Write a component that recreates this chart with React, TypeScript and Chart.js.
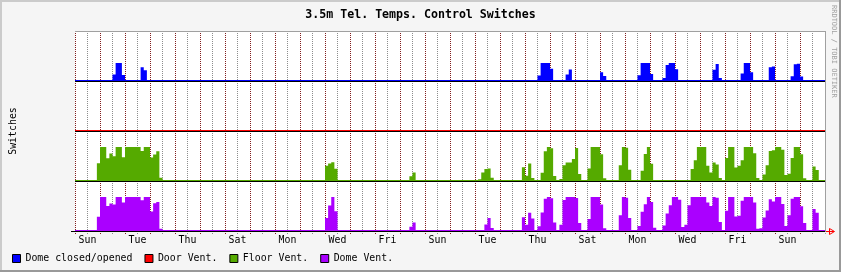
import React, { useEffect, useRef } from 'react';
import { Chart, registerables } from 'chart.js';

Chart.register(...registerables);

// ---- data (one row = one day, 8 samples of 3 hours each; 30 days) ----
const DAY_LABELS = ['Sun', 'Tue', 'Thu', 'Sat', 'Mon', 'Wed', 'Fri', 'Sun', 'Tue', 'Thu', 'Sat', 'Mon', 'Wed', 'Fri', 'Sun'];
const SAMPLES_PER_DAY = 8;
const DAYS = 30;

const domeOpen = [
  0, 0, 0, 0, 0, 0, 0, 0,
  0, 0, 0, 0, 0, 0.32, 1, 1,
  0.29, 0, 0, 0, 0, 0, 0.75, 0.57,
  0, 0, 0, 0, 0, 0, 0, 0,
  0, 0, 0, 0, 0, 0, 0, 0,
  0, 0, 0, 0, 0, 0, 0, 0,
  0, 0, 0, 0, 0, 0, 0, 0,
  0, 0, 0, 0, 0, 0, 0, 0,
  0, 0, 0, 0, 0, 0, 0, 0,
  0, 0, 0, 0, 0, 0, 0, 0,
  0, 0, 0, 0, 0, 0, 0, 0,
  0, 0, 0, 0, 0, 0, 0, 0,
  0, 0, 0, 0, 0, 0, 0, 0,
  0, 0, 0, 0, 0, 0, 0, 0,
  0, 0, 0, 0, 0, 0, 0, 0,
  0, 0, 0, 0, 0, 0, 0, 0,
  0, 0, 0, 0, 0, 0, 0, 0,
  0, 0, 0, 0, 0, 0, 0, 0,
  0, 0, 0, 0, 0, 0.27, 1, 1,
  1, 0.66, 0, 0, 0, 0, 0.32, 0.62,
  0, 0, 0, 0, 0, 0, 0, 0,
  0, 0.45, 0.24, 0, 0, 0, 0, 0,
  0, 0, 0, 0, 0, 0.28, 1, 1,
  1, 0.35, 0, 0, 0, 0.12, 0.88, 1,
  1, 0.63, 0, 0, 0, 0, 0, 0,
  0, 0, 0, 0, 0, 0.61, 0.94, 0.12,
  0, 0, 0, 0, 0, 0, 0.38, 1,
  1, 0.45, 0, 0, 0, 0, 0, 0.75,
  0.8, 0, 0, 0, 0, 0, 0.22, 0.93,
  0.95, 0.21, 0, 0, 0, 0, 0, 0,
];

const doorVent = [
  0, 0, 0, 0, 0, 0, 0, 0,  0, 0, 0, 0, 0, 0, 0, 0,  0, 0, 0, 0, 0, 0, 0, 0,
  0, 0, 0, 0, 0, 0, 0, 0,  0, 0, 0, 0, 0, 0, 0, 0,  0, 0, 0, 0, 0, 0, 0, 0,
  0, 0, 0, 0, 0, 0, 0, 0,  0, 0, 0, 0, 0, 0, 0, 0,  0, 0, 0, 0, 0, 0, 0, 0,
  0, 0, 0, 0, 0, 0, 0, 0,  0, 0, 0, 0, 0, 0, 0, 0,  0, 0, 0, 0, 0, 0, 0, 0,
  0, 0, 0, 0, 0, 0, 0, 0,  0, 0, 0, 0, 0, 0, 0, 0,  0, 0, 0, 0, 0, 0, 0, 0,
  0, 0, 0, 0, 0, 0, 0, 0,  0, 0, 0, 0, 0, 0, 0, 0,  0, 0, 0, 0, 0, 0, 0, 0,
  0, 0, 0, 0, 0, 0, 0, 0,  0, 0, 0, 0, 0, 0, 0, 0,  0, 0, 0, 0, 0, 0, 0, 0,
  0, 0, 0, 0, 0, 0, 0, 0,  0, 0, 0, 0, 0, 0, 0, 0,  0, 0, 0, 0, 0, 0, 0, 0,
  0, 0, 0, 0, 0, 0, 0, 0,  0, 0, 0, 0, 0, 0, 0, 0,  0, 0, 0, 0, 0, 0, 0, 0,
  0, 0, 0, 0, 0, 0, 0, 0,  0, 0, 0, 0, 0, 0, 0, 0,  0, 0, 0, 0, 0, 0, 0, 0,
];

const floorVent = [
  0.27, 0, 0, 0, 0, 0, 0, 0,
  0.51, 1, 1, 0.66, 0.8, 0.72, 1, 1,
  0.69, 1, 1, 1, 1, 1, 0.88, 1,
  1, 0.68, 0.77, 0.87, 0.07, 0, 0, 0,
  0, 0, 0, 0, 0, 0, 0, 0,
  0, 0, 0, 0, 0, 0, 0, 0,
  0, 0, 0, 0, 0, 0, 0, 0,
  0, 0, 0, 0, 0, 0, 0, 0,
  0, 0, 0, 0, 0, 0, 0, 0,
  0, 0, 0, 0, 0, 0, 0, 0,
  0, 0.43, 0.5, 0.54, 0.34, 0, 0, 0,
  0, 0, 0, 0, 0, 0, 0, 0,
  0, 0, 0, 0, 0, 0, 0, 0,
  0, 0, 0, 0, 0.11, 0.23, 0, 0,
  0, 0, 0, 0, 0, 0, 0, 0,
  0, 0, 0, 0, 0, 0, 0, 0,
  0, 0, 0.02, 0.23, 0.33, 0.35, 0.07, 0,
  0, 0, 0, 0, 0, 0, 0, 0,
  0.39, 0.13, 0.5, 0.06, 0, 0, 0.22, 0.87,
  1, 0.96, 0.12, 0, 0.03, 0.45, 0.53, 0.53,
  0.64, 0.97, 0.18, 0, 0, 0.35, 1, 1,
  1, 0.78, 0.05, 0, 0, 0, 0, 0.45,
  1, 0.98, 0.31, 0, 0, 0, 0.28, 0.79,
  1, 0.49, 0, 0, 0, 0, 0, 0,
  0, 0, 0, 0, 0, 0, 0.33, 0.6,
  1, 1, 1, 0.43, 0.23, 0.53, 0.47, 0.06,
  0, 0.67, 1, 1, 0.38, 0.43, 0.6, 1,
  1, 1, 0.81, 0.06, 0, 0.17, 0.45, 0.88,
  0.9, 1, 1, 0.92, 0.15, 0.19, 0.67, 1,
  1, 0.78, 0.05, 0, 0, 0.41, 0.3, 0,
];

const domeVent = [
  0.25, 0, 0, 0, 0, 0, 0, 0,
  0.4, 1, 1, 0.73, 0.8, 0.77, 1, 1,
  0.83, 1, 1, 1, 1, 1, 0.9, 1,
  1, 0.56, 0.81, 0.85, 0.04, 0, 0, 0,
  0, 0, 0, 0, 0, 0, 0, 0,
  0, 0, 0, 0, 0, 0, 0, 0,
  0, 0, 0, 0, 0, 0, 0, 0,
  0, 0, 0, 0, 0, 0, 0, 0,
  0, 0, 0, 0, 0, 0, 0, 0,
  0, 0, 0, 0, 0, 0, 0, 0,
  0, 0.36, 0.74, 1, 0.57, 0, 0, 0,
  0, 0, 0, 0, 0, 0, 0, 0,
  0, 0, 0, 0, 0, 0, 0, 0,
  0, 0, 0, 0, 0.1, 0.23, 0, 0,
  0, 0, 0, 0, 0, 0, 0, 0,
  0, 0, 0, 0, 0, 0, 0, 0,
  0, 0, 0, 0, 0.17, 0.36, 0.06, 0,
  0, 0, 0, 0, 0, 0, 0, 0,
  0.39, 0.16, 0.52, 0.35, 0, 0.11, 0.53, 0.95,
  1, 0.96, 0.23, 0, 0.16, 0.91, 1, 1,
  1, 0.97, 0.21, 0, 0, 0.33, 1, 1,
  1, 0.77, 0.05, 0, 0, 0, 0, 0.45,
  1, 0.98, 0.36, 0, 0, 0.12, 0.55, 0.78,
  1, 0.85, 0.07, 0, 0, 0.14, 0.5, 0.75,
  1, 1, 0.92, 0.09, 0.16, 0.75, 1, 1,
  1, 1, 1, 0.83, 0.73, 1, 0.98, 0.24,
  0, 0.58, 1, 1, 0.41, 0.43, 0.89, 1,
  1, 1, 0.83, 0.04, 0.05, 0.38, 0.59, 0.93,
  0.86, 1, 1, 0.79, 0.12, 0.45, 0.95, 1,
  1, 0.72, 0.21, 0, 0, 0.64, 0.52, 0,
];

// ---- styling ----
const FONT = "'DejaVu Sans Mono', monospace";
const MAJOR_GRID = '#821e1e';
const MINOR_GRID = '#8c8c8c';
const FRAME_GRID = '#a0a0a0';

const STRIP = 0.02;

function toPoints(vals: number[], base: number, span: number) {
  const step = 1 / SAMPLES_PER_DAY;
  const pts = vals.map((v, i) => ({ x: i * step, y: base + STRIP + v * span }));
  pts.push({ x: vals.length * step, y: base + STRIP + vals[vals.length - 1] * span });
  return pts;
}

const framePlugin = {
  id: 'rrdFrame',
  beforeDraw(chart: any) {
    const { ctx, chartArea: ca, width, height } = chart;
    ctx.save();
    ctx.fillStyle = '#f5f5f5';
    ctx.fillRect(0, 0, width, height);
    ctx.fillStyle = '#cbcbcb';
    ctx.fillRect(0, 0, width, 2);
    ctx.fillRect(0, 0, 2, height);
    ctx.fillStyle = '#999999';
    ctx.fillRect(0, height - 2, width, 2);
    ctx.fillRect(width - 2, 0, 2, height);
    ctx.fillStyle = '#ffffff';
    ctx.fillRect(ca.left, ca.top, ca.right - ca.left, ca.bottom - ca.top);
    ctx.restore();
  },
  afterDraw(chart: any) {
    const { ctx, chartArea: ca } = chart;
    ctx.save();
    ctx.fillStyle = '#000';
    ctx.fillRect(ca.left - 4, ca.bottom, 4, 1);
    ctx.strokeStyle = '#ff0000';
    ctx.lineWidth = 1;
    ctx.beginPath();
    ctx.moveTo(ca.right + 1, ca.bottom + 0.5);
    ctx.lineTo(ca.right + 9, ca.bottom + 0.5);
    ctx.moveTo(ca.right + 4.5, ca.bottom - 2.5);
    ctx.lineTo(ca.right + 9.5, ca.bottom + 0.5);
    ctx.lineTo(ca.right + 4.5, ca.bottom + 3.5);
    ctx.closePath();
    ctx.stroke();
    ctx.fillStyle = '#a0a0a0';
    ctx.font = `7px ${FONT}`;
    ctx.translate(833.5, 5);
    ctx.rotate(Math.PI / 2);
    ctx.textAlign = 'left';
    ctx.textBaseline = 'middle';
    ctx.fillText('RRDTOOL / TOBI OETIKER', 0, 0);
    ctx.restore();
  },
};

const xGridColor = (c: any) => {
  const v = c.tick ? c.tick.value : 0;
  if (v === DAYS) return FRAME_GRID;
  return Number.isInteger(v) ? MAJOR_GRID : MINOR_GRID;
};

export default function App() {
  const ref = useRef<HTMLCanvasElement | null>(null);

  useEffect(() => {
    if (!ref.current) return;
    const common = {
      stepped: 'after' as const,
      pointRadius: 0,
      borderWidth: 0,
      borderColor: 'rgba(0,0,0,0)',
      xAxisID: 'x',
      yAxisID: 'y',
    };
    const chart = new Chart(ref.current, {
      type: 'line',
      data: {
        datasets: [
          { ...common, label: 'Dome closed/opened', data: toPoints(domeOpen, 3, 0.34), backgroundColor: '#0000ff', fill: { value: 3 } },
          { ...common, label: 'Door Vent.', data: toPoints(doorVent, 2, 0.34), backgroundColor: '#ff0000', fill: { value: 2 } },
          { ...common, label: 'Floor Vent.', data: toPoints(floorVent, 1, 0.66), backgroundColor: '#55aa00', fill: { value: 1 } },
          { ...common, label: 'Dome Vent.', data: toPoints(domeVent, 0, 0.66), backgroundColor: '#aa00ff', fill: { value: 0 } },
        ],
      },
      options: {
        animation: false,
        responsive: false,
        maintainAspectRatio: false,
        events: [],
        layout: { padding: 0 },
        plugins: {
          title: {
            display: true,
            text: '3.5m Tel. Temps. Control Switches',
            color: '#000',
            font: { family: FONT, size: 11.6, weight: 'bold', lineHeight: '14px' },
            padding: { top: 8, bottom: 9 },
          },
          legend: {
            display: true,
            position: 'bottom',
            align: 'start',
            maxHeight: 23,
            title: {
              display: true,
              text: '',
              font: { family: FONT, size: 1, lineHeight: '2px' },
              padding: { top: -9.95, bottom: 0 },
            },
            labels: {
              boxWidth: 8,
              boxHeight: 8,
              padding: 12.5,
              color: '#000',
              font: { family: FONT, size: 9.9 },
              generateLabels: (ch: any) =>
                Chart.defaults.plugins.legend.labels
                  .generateLabels(ch)
                  .map((l: any) => ({ ...l, strokeStyle: '#000', lineWidth: 1 })),
            },
          },
          tooltip: { enabled: false },
        },
        scales: {
          x: {
            type: 'linear',
            position: 'bottom',
            min: 0,
            max: DAYS,
            afterFit: (s: any) => { s.height = 18; },
            ticks: {
              stepSize: 0.5,
              autoSkip: false,
              maxRotation: 0,
              minRotation: 0,
              padding: 0.3,
              color: '#000',
              font: { family: FONT, size: 9.9, lineHeight: '10px' },
              callback: (v: any) => {
                const k = (Number(v) - 0.5) / 2;
                return Number.isInteger(k) && k >= 0 && k < DAY_LABELS.length ? DAY_LABELS[k] : '';
              },
            },
            grid: {
              display: true,
              drawOnChartArea: true,
              drawTicks: true,
              tickLength: 4,
              lineWidth: 1,
              tickWidth: 1,
              color: xGridColor,
              tickColor: xGridColor,
              tickBorderDash: [1, 1],
            },
            border: {
              display: false,
              dash: (c: any) => (c.tick && c.tick.value !== DAYS ? [1, 1] : []),
            },
          },
          y: {
            type: 'linear',
            position: 'left',
            min: 0,
            max: 4,
            afterFit: (s: any) => { s.width = 75; },
            ticks: { display: false, stepSize: 1 },
            grid: {
              drawTicks: false,
              lineWidth: 1,
              color: (c: any) => (c.tick && c.tick.value === 4 ? FRAME_GRID : '#000000'),
            },
            border: { display: false },
            title: {
              display: true,
              text: 'Switches',
              color: '#000',
              font: { family: FONT, size: 9.9, lineHeight: '12px' },
              padding: { top: 7, bottom: 0 },
            },
          },
          yR: {
            type: 'linear',
            position: 'right',
            display: true,
            afterFit: (s: any) => { s.width = 16; },
            ticks: { display: false },
            grid: { display: false },
            border: { display: false },
          },
        },
      } as any,
      plugins: [framePlugin],
    });
    return () => chart.destroy();
  }, []);

  return (
    <div style={{ position: 'fixed', left: 0, top: 0, width: 841, height: 272 }}>
      <canvas ref={ref} width={841} height={272} style={{ display: 'block', width: 841, height: 272 }} />
    </div>
  );
}
